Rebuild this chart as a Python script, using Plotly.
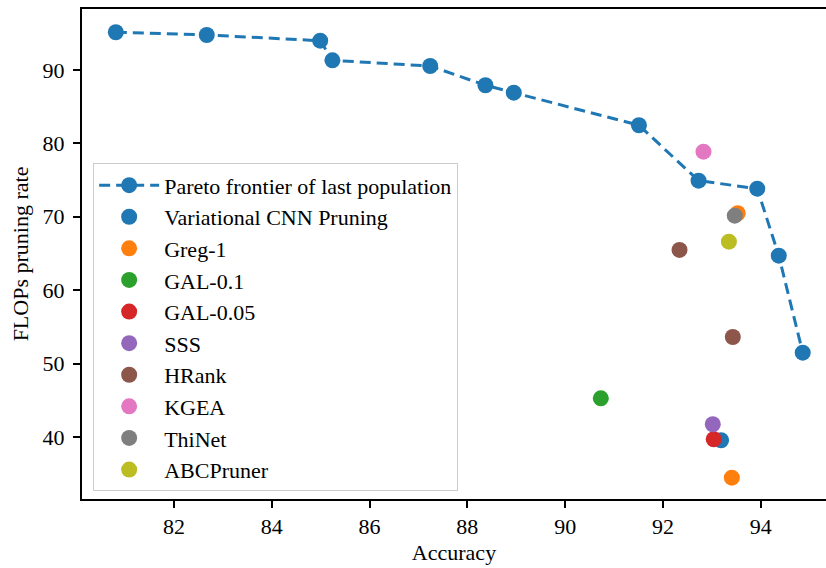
import plotly.graph_objects as go

# Pareto frontier of the last population (accuracy %, FLOPs pruning rate %)
pareto_acc = [80.81, 82.67, 84.99, 85.24, 87.24, 88.37, 88.95, 91.51, 92.73, 93.93, 94.37, 94.86]
pareto_flops = [95.14, 94.77, 93.99, 91.32, 90.54, 87.92, 86.91, 82.47, 74.92, 73.83, 64.70, 51.49]

# Compared pruning methods
methods = ["Variational CNN Pruning", "Greg-1", "GAL-0.1", "GAL-0.05", "SSS",
           "HRank", "KGEA", "ThiNet", "ABCPruner"]
method_acc = [[93.19], [93.53, 93.41], [90.73], [93.04], [93.02],
              [92.34, 93.43], [92.83], [93.47], [93.35]]
method_flops = [[39.55], [70.48, 34.46], [45.27], [39.69], [41.73],
                [65.48, 53.62], [78.87], [70.15], [66.61]]
colors = ["#1f77b4", "#ff7f0e", "#2ca02c", "#d62728", "#9467bd",
          "#8c564b", "#e377c2", "#7f7f7f", "#bcbd22"]

x_ticks = [82, 84, 86, 88, 90, 92, 94]
y_ticks = [40, 50, 60, 70, 80, 90]

FONT = "Liberation Serif"
FS = 22

fig = go.Figure()
fig.add_trace(go.Scatter(
    x=pareto_acc, y=pareto_flops, mode="lines+markers",
    name="Pareto frontier of last population",
    line=dict(color="#1f77b4", width=3, dash="11px,6px"),
    marker=dict(color="#1f77b4", size=16, line=dict(width=0)),
    legendgroup="g0",
))
for i, (name, xs, ys, c) in enumerate(zip(methods, method_acc, method_flops, colors)):
    fig.add_trace(go.Scatter(
        x=xs, y=ys, mode="markers", name=name,
        marker=dict(color=c, size=16, line=dict(width=0)),
        legendgroup=f"g{i+1}",
    ))

fig.update_layout(
    template="none",
    width=826, height=568,
    margin=dict(l=82, r=0, t=9, b=69),
    paper_bgcolor="white", plot_bgcolor="white",
    font=dict(family=FONT, size=FS, color="black"),
    showlegend=True,
    legend=dict(
        x=0.015, y=0.685, xanchor="left", yanchor="top",
        bgcolor="rgba(255,255,255,0.8)", bordercolor="#cccccc", borderwidth=1,
        font=dict(family=FONT, size=FS, color="black"),
        tracegroupgap=0, traceorder="grouped", itemwidth=60,
    ),
)

fig.update_xaxes(
    range=[80.118, 95.336], tickmode="array", tickvals=x_ticks,
    ticktext=[str(v) for v in x_ticks], mirror=True,
    title_text="Accuracy", title_font=dict(family=FONT, size=FS, color="black"),
    title_standoff=6,
)
fig.update_yaxes(
    range=[31.55, 98.31], tickmode="array", tickvals=y_ticks,
    ticktext=[str(v) for v in y_ticks], mirror=False,
    title_text="FLOPs pruning rate", title_font=dict(family=FONT, size=FS, color="black"),
    title_standoff=8, ticklabelstandoff=4,
)
fig.update_xaxes(
    showline=True, linecolor="black", linewidth=2,
    ticks="outside", ticklen=7, tickwidth=2, tickcolor="black",
    showgrid=False, zeroline=False,
    tickfont=dict(family=FONT, size=FS, color="black"),
)
fig.update_yaxes(
    showline=True, linecolor="black", linewidth=2,
    ticks="outside", ticklen=7, tickwidth=2, tickcolor="black",
    showgrid=False, zeroline=False,
    tickfont=dict(family=FONT, size=FS, color="black"),
)

fig.write_html("out.html")
